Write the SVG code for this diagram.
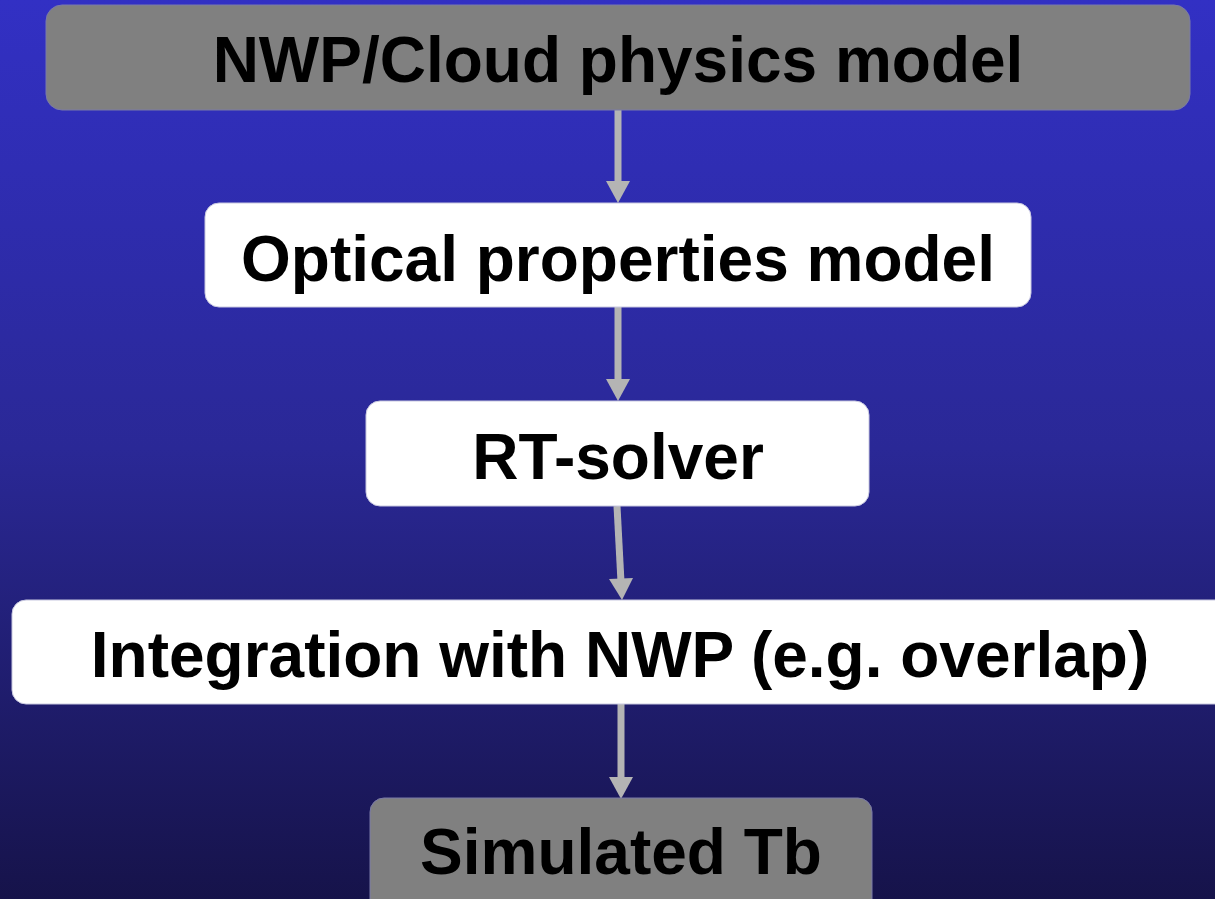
<svg xmlns="http://www.w3.org/2000/svg" width="1215" height="899" viewBox="0 0 1215 899">
<defs>
<linearGradient id="bg" x1="0" y1="0" x2="0" y2="1">
<stop offset="0" stop-color="#3230c4"/>
<stop offset="0.5" stop-color="#2a2896"/>
<stop offset="1" stop-color="#16134a"/>
</linearGradient>
<style>
.gray{fill:#808080;stroke:#7a7aa8;stroke-width:1}
.white{fill:#ffffff;stroke:#c8c8e0;stroke-width:1}
.t{font-family:"Liberation Sans",Arial,sans-serif;font-weight:bold;font-size:64px;fill:#000;text-anchor:middle}
.c{stroke:#b4b4b4;stroke-width:7;fill:none}
.h{fill:#b4b4b4}
</style>
</defs>
<rect width="1215" height="899" fill="url(#bg)"/>
<g id="connectors">
<line class="c" x1="618" y1="110" x2="618" y2="184"/>
<path class="h" d="M606,181 L630,181 L618,203 Z"/>
<line class="c" x1="618" y1="307" x2="618" y2="382"/>
<path class="h" d="M606,379 L630,379 L618,401 Z"/>
<line class="c" x1="617" y1="506" x2="621" y2="582"/>
<path class="h" d="M609,579 L633,578 L622,600 Z"/>
<line class="c" x1="621" y1="704" x2="621" y2="780"/>
<path class="h" d="M609,777 L633,777 L621,799 Z"/>
</g>
<g id="n1"><rect class="gray" x="46" y="5" width="1144" height="105" rx="16"/><text class="t" x="618" y="82">NWP/Cloud physics model</text></g>
<g id="n2"><rect class="white" x="205" y="203" width="826" height="104" rx="14"/><text class="t" x="618" y="281">Optical properties model</text></g>
<g id="n3"><rect class="white" x="366" y="401" width="503" height="105" rx="14"/><text class="t" x="618" y="479">RT-solver</text></g>
<g id="n4"><rect class="white" x="12" y="600" width="1220" height="104" rx="14"/><text class="t" x="620" y="677">Integration with NWP (e.g. overlap)</text></g>
<g id="n5"><rect class="gray" x="370" y="798" width="502" height="120" rx="14"/><text class="t" x="621" y="874">Simulated Tb</text></g>
</svg>
